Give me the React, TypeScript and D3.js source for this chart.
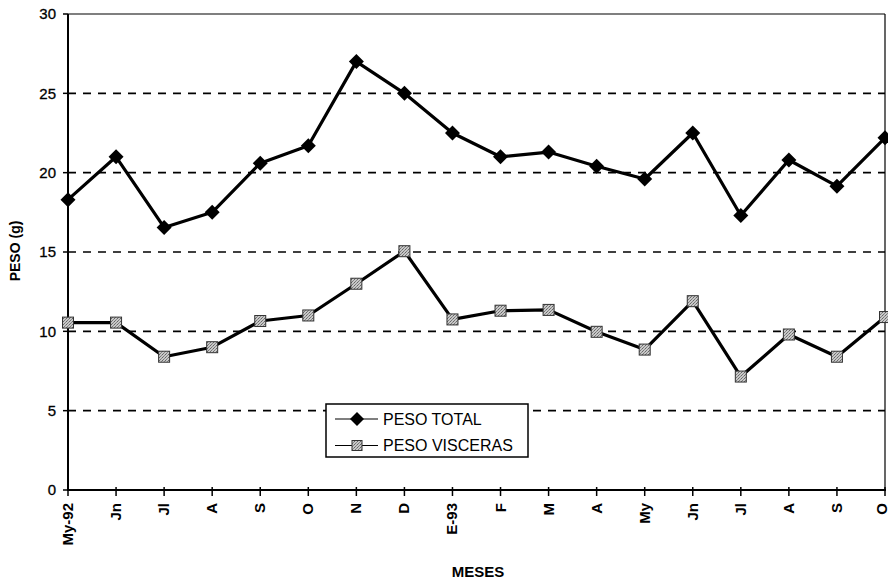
import React, { useEffect } from "react";
import * as d3 from "d3";

const months = ["My-92", "Jn", "Jl", "A", "S", "O", "N", "D", "E-93", "F", "M", "A", "My", "Jn", "Jl", "A", "S", "O"];
const pesoTotal = [18.3, 21.0, 16.55, 17.5, 20.6, 21.7, 27.0, 25.0, 22.5, 21.0, 21.3, 20.4, 19.6, 22.5, 17.3, 20.8, 19.15, 22.2];
const pesoVisceras = [10.55, 10.55, 8.4, 9.0, 10.65, 11.0, 13.0, 15.05, 10.75, 11.3, 11.35, 9.97, 8.85, 11.9, 7.15, 9.8, 8.4, 10.9];
const yTicks = [0, 5, 10, 15, 20, 25, 30];
const gridValues = [5, 10, 15, 20, 25];
const seriesNames = ["PESO TOTAL", "PESO VISCERAS"];

const W = 888;
const H = 585;
const left = 68;
const right = 885;
const top = 14;
const bottom = 490;
const FONT = "'Liberation Sans', Arial, sans-serif";

export default function App() {
  useEffect(() => {
    document.body.style.margin = "0";
  }, []);

  const idx = months.map((_, i) => i);
  const x = d3.scalePoint<number>().domain(idx).range([left, right]);
  const y = d3.scaleLinear().domain([0, 30]).range([bottom, top]);

  const line = d3
    .line<number>()
    .x((_, i) => x(i) as number)
    .y((d) => y(d));

  const diamond = (cx: number, cy: number, r: number) =>
    `M${cx},${cy - r}L${cx + r},${cy}L${cx},${cy + r}L${cx - r},${cy}Z`;

  const sq = 5.5;

  return (
    <svg width={W} height={H} style={{ position: "absolute", left: 0, top: 0, background: "#fff" }} fontFamily={FONT}>
      <defs>
        <pattern id="stip" width="3" height="3" patternUnits="userSpaceOnUse">
          <rect width="3" height="3" fill="#c8c8c8" />
          <rect x="0" y="0" width="1" height="1" fill="#666" />
          <rect x="2" y="1" width="1" height="1" fill="#888" />
          <rect x="1" y="2" width="1" height="1" fill="#777" />
        </pattern>
      </defs>
      <rect width={W} height={H} fill="#fff" />

      {gridValues.map((v) => (
        <line key={"g" + v} x1={left} x2={right} y1={y(v)} y2={y(v)} stroke="#000" strokeWidth={1.6} strokeDasharray="8,7" />
      ))}

      <line x1={left} x2={right} y1={top} y2={top} stroke="#000" strokeWidth={1.2} />
      <line x1={right} x2={right} y1={top} y2={bottom} stroke="#000" strokeWidth={1.2} />
      <line x1={left} x2={left} y1={top} y2={bottom + 1} stroke="#000" strokeWidth={2} />
      <line x1={left - 1} x2={right + 1} y1={bottom} y2={bottom} stroke="#000" strokeWidth={2} />

      {yTicks.map((v) => (
        <g key={"yt" + v}>
          <line x1={left - 5} x2={left} y1={y(v)} y2={y(v)} stroke="#000" strokeWidth={1.5} />
          <text x={left - 12} y={y(v)} dy="0.36em" textAnchor="end" fontSize={15} fill="#000" stroke="#000" strokeWidth={0.3}>
            {v}
          </text>
        </g>
      ))}

      {idx.map((i) => (
        <g key={"xt" + i}>
          <line x1={x(i)} x2={x(i)} y1={bottom - 3} y2={bottom + 6} stroke="#000" strokeWidth={1.5} />
          <text
            transform={`translate(${Math.min((x(i) as number) + 5, 887)},${bottom + 13}) rotate(-90)`}
            textAnchor="end"
            fontSize={15}
            fontWeight="bold"
            fill="#000"
          >
            {months[i]}
          </text>
        </g>
      ))}

      <path d={line(pesoTotal) || ""} fill="none" stroke="#000" strokeWidth={3.2} strokeLinejoin="round" />
      <path d={line(pesoVisceras) || ""} fill="none" stroke="#000" strokeWidth={3.2} strokeLinejoin="round" />

      {pesoTotal.map((v, i) => (
        <path key={"d" + i} d={diamond(x(i) as number, y(v), 7.5)} fill="#000" />
      ))}
      {pesoVisceras.map((v, i) => (
        <rect
          key={"s" + i}
          x={(x(i) as number) - sq}
          y={y(v) - sq}
          width={sq * 2}
          height={sq * 2}
          fill="url(#stip)"
          stroke="#333"
          strokeWidth={1}
        />
      ))}

      <g>
        <rect x={326} y={404} width={202} height={53} fill="#fff" stroke="#000" strokeWidth={1.5} />
        <line x1={335} x2={378} y1={419} y2={419} stroke="#000" strokeWidth={1.2} />
        <path d={diamond(357, 419, 7)} fill="#000" />
        <text x={383} y={419} dy="0.36em" fontSize={16} fill="#000">
          {seriesNames[0]}
        </text>
        <line x1={335} x2={378} y1={445.5} y2={445.5} stroke="#000" strokeWidth={1.2} />
        <rect x={357 - 5} y={445.5 - 5} width={10} height={10} fill="url(#stip)" stroke="#333" strokeWidth={1} />
        <text x={383} y={445.5} dy="0.36em" fontSize={16} fill="#000">
          {seriesNames[1]}
        </text>
      </g>

      <text x={478} y={577} textAnchor="middle" fontSize={15} fontWeight="bold" fill="#000">
        MESES
      </text>
      <text transform={`translate(20,251) rotate(-90)`} textAnchor="middle" fontSize={14} fontWeight="bold" fill="#000">
        PESO (g)
      </text>
    </svg>
  );
}
